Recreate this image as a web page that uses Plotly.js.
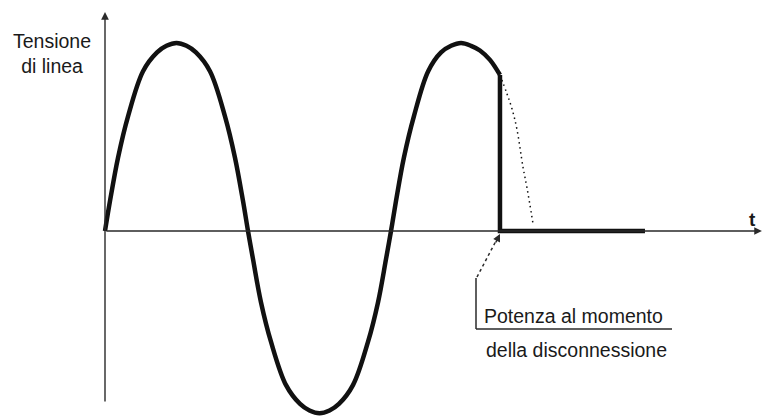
<!DOCTYPE html>
<html>
<head>
<meta charset="utf-8">
<script src="https://cdn.plot.ly/plotly-3.0.1.min.js"></script>
<style>html,body{margin:0;padding:0;background:#fff;}#chart{width:764px;height:416px;}</style>
</head>
<body>
<div id="chart"></div>
<script>
// Time in ms, voltage as fraction of the peak
const waveTime = [0, 0.35, 0.91, 1.61, 2.66, 3.64, 4.3, 5.0, 5.7, 6.36, 7.34, 8.39, 9.09, 9.65, 10.0,
  10.35, 10.91, 11.61, 12.66, 13.64, 14.3, 15.0, 15.7, 16.36, 17.34, 18.39, 19.09, 19.65, 20.0,
  20.35, 20.9, 21.6, 22.6, 23.5, 24.2, 24.9, 25.6, 26.22, 26.92, 27.62];
const waveVolt = [0, 0.16, 0.39, 0.61, 0.85, 0.95, 0.985, 1.0, 0.985, 0.95, 0.85, 0.61, 0.39, 0.16, 0,
  -0.15, -0.38, -0.59, -0.82, -0.92, -0.955, -0.97, -0.955, -0.92, -0.82, -0.59, -0.38, -0.15, 0,
  0.16, 0.39, 0.61, 0.85, 0.95, 0.985, 1.0, 0.985, 0.96, 0.91, 0.83];
// after disconnection
const cutTime = [27.62, 27.62, 37.76];
const cutVolt = [0.83, 0, 0];
// dotted continuation of the sine (had it not been disconnected)
const ghostTime = [27.62, 28.11, 28.46, 28.81, 29.23, 29.51, 29.93];
const ghostVolt = [0.83, 0.73, 0.65, 0.54, 0.34, 0.23, 0.04];

const axisTop = 1.165, axisRight = 45.94;
const yLabel = 'Tensione<br>di linea';
const xLabel = 't';
const noteLines = ['Potenza al momento', 'della disconnessione'];

const ink = '#111111';
const axisInk = '#2a2a2a';
const font = 'Liberation Sans, Arial, sans-serif';
const W = 764, H = 416;
const px = v => v / W;
const py = v => 1 - v / H;

const traces = [
  {x: waveTime, y: waveVolt, mode: 'lines', line: {color: ink, width: 4.5, shape: 'spline', smoothing: 1}, hoverinfo: 'skip'},
  {x: cutTime, y: cutVolt, mode: 'lines', line: {color: ink, width: 4.5}, hoverinfo: 'skip'},
  {x: ghostTime, y: ghostVolt, mode: 'lines', line: {color: ink, width: 1.5, dash: '1.5px,3.5px', shape: 'spline'}, hoverinfo: 'skip'}
];

const layout = {
  width: W, height: H,
  margin: {l: 0, r: 0, t: 0, b: 0},
  paper_bgcolor: '#fff', plot_bgcolor: '#fff',
  showlegend: false,
  xaxis: {range: [-7.343, 46.084], visible: false, fixedrange: true},
  yaxis: {range: [-0.984, 1.2287], visible: false, fixedrange: true},
  shapes: [
    {type: 'line', xref: 'paper', yref: 'paper', x0: px(476), y0: py(278), x1: px(476), y1: py(329), line: {color: axisInk, width: 1.5}},
    {type: 'line', xref: 'paper', yref: 'paper', x0: px(476), y0: py(329), x1: px(672), y1: py(329), line: {color: axisInk, width: 1.5}},
    {type: 'line', xref: 'paper', yref: 'paper', x0: px(477), y0: py(277), x1: px(497), y1: py(239), line: {color: axisInk, width: 1.5, dash: 'dot'}}
  ],
  annotations: [
    {x: 0, y: axisTop, xref: 'x', yref: 'y', text: '', showarrow: true, ax: 0, ay: 391, arrowhead: 2, arrowsize: 1.1, arrowwidth: 1.4, arrowcolor: axisInk},
    {x: axisRight, y: 0, xref: 'x', yref: 'y', text: '', showarrow: true, ax: -657, ay: 0, arrowhead: 2, arrowsize: 1.1, arrowwidth: 1.4, arrowcolor: axisInk},
    {xref: 'paper', yref: 'paper', x: px(500), y: py(234), text: '', showarrow: true, ax: -5, ay: 10, arrowhead: 2, arrowsize: 1, arrowwidth: 1.5, arrowcolor: axisInk},
    {xref: 'paper', yref: 'paper', x: px(52), y: py(54), text: yLabel, showarrow: false, xanchor: 'center', yanchor: 'middle', align: 'center', font: {family: font, size: 19.5, color: '#1a1a1a'}},
    {xref: 'paper', yref: 'paper', x: px(752), y: py(219), text: '<b>' + xLabel + '</b>', showarrow: false, xanchor: 'center', yanchor: 'middle', font: {family: font, size: 19, color: '#1a1a1a'}},
    {xref: 'paper', yref: 'paper', x: px(573), y: py(316), text: noteLines[0], showarrow: false, xanchor: 'center', yanchor: 'middle', font: {family: font, size: 19.5, color: '#1a1a1a'}},
    {xref: 'paper', yref: 'paper', x: px(576), y: py(350), text: noteLines[1], showarrow: false, xanchor: 'center', yanchor: 'middle', font: {family: font, size: 19.5, color: '#1a1a1a'}}
  ]
};

Plotly.newPlot('chart', traces, layout, {displayModeBar: false, staticPlot: true});
</script>
</body>
</html>
